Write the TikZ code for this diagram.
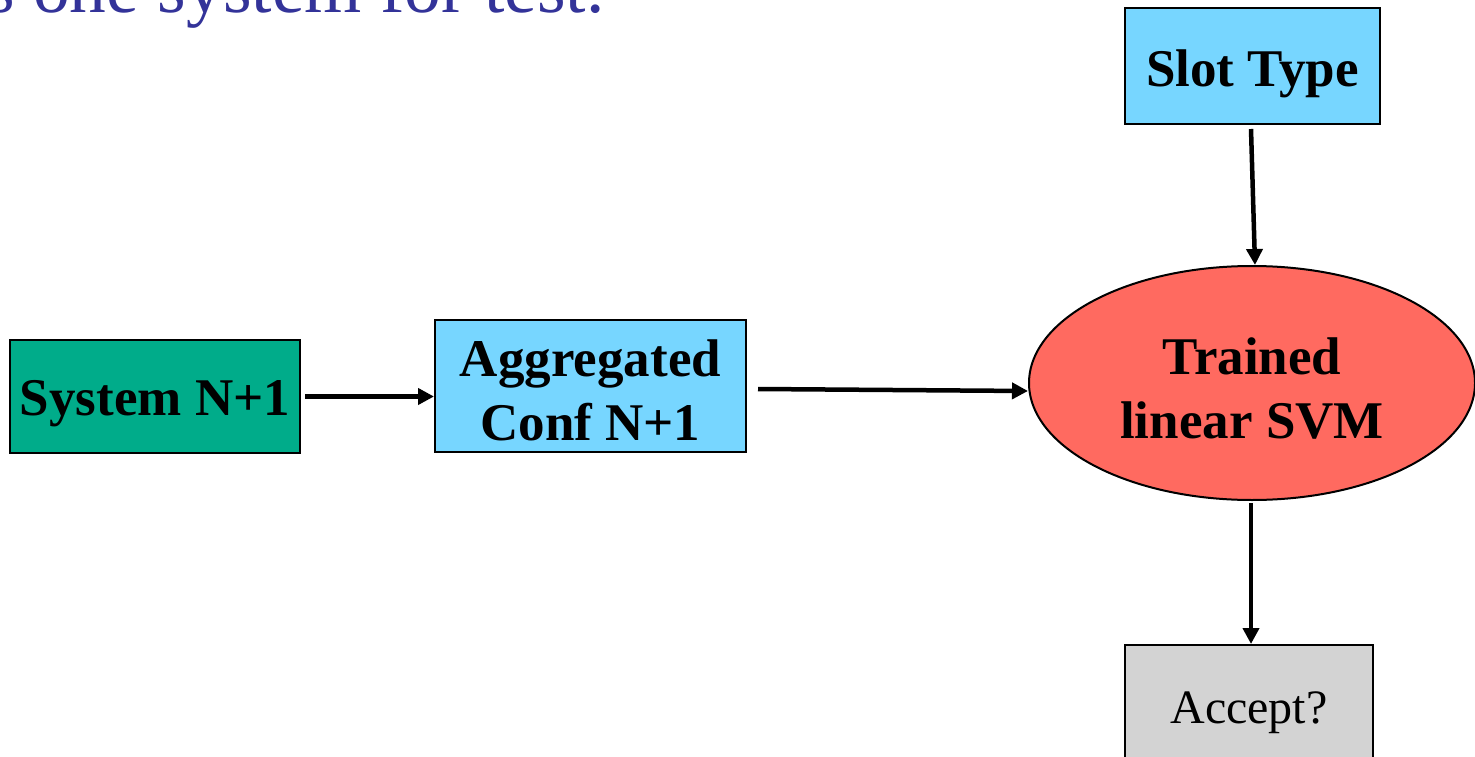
\documentclass[tikz,border=0pt]{standalone}
\usepackage{fontspec}
\setmainfont{Liberation Serif}
\usetikzlibrary{arrows.meta,shapes.geometric}
\definecolor{teal}{RGB}{0,172,138}
\definecolor{skyblue}{RGB}{119,214,255}
\definecolor{salmon}{RGB}{255,106,96}
\definecolor{lightgray}{RGB}{211,211,211}
\definecolor{titleblue}{RGB}{51,51,153}
\tikzset{
  box/.style={draw=black, line width=2pt, rectangle, inner sep=0pt},
  caption/.style={inner sep=0pt, align=center,
    font=\fontsize{53}{64}\selectfont\bfseries},
  flow/.style={line width=4.5pt, -{Triangle[length=16pt,width=16pt]}},
}
\begin{document}
\begin{tikzpicture}[x=1pt,y=-1pt]
\useasboundingbox (0,0) rectangle (1475,757);
\clip (0,0) rectangle (1475,757);
\fill[white] (0,0) rectangle (1475,757);

% heading line, cut off at the top edge
\node[anchor=base west, inner sep=0pt, text=titleblue,
      font=\fontsize{73.5}{80}\selectfont] (title) at (-14,13) {s one system for test.};

% shapes
\node[box, fill=teal, minimum width=290pt, minimum height=113pt] (sys) at (155,396.5) {};
\node[box, fill=skyblue, minimum width=311pt, minimum height=132pt] (agg) at (590.5,386) {};
\node[box, fill=skyblue, minimum width=255pt, minimum height=116pt] (slot) at (1252.5,66) {};
\node[box, ellipse, fill=salmon, minimum width=446pt, minimum height=234pt] (svm) at (1252,383) {};
\node[box, fill=lightgray, minimum width=248pt, minimum height=126pt] (acc) at (1249,708) {};

% texts inside the shapes
\node[caption] (sys-t)  at ([yshift=-7pt]sys.center)  {System N+1};
\node[caption] (agg-t)  at ([yshift=-4pt]agg.center)  {Aggregated\\Conf N+1};
\node[caption] (slot-t) at ([yshift=-8pt]slot.center) {Slot Type};
\node[caption] (svm-t)  at ([yshift=-6pt]svm.center)  {Trained\\linear SVM};
\node[caption, font=\fontsize{48}{56}\selectfont] (acc-t) at ([yshift=-5pt]acc.center) {Accept?};

% connectors
\draw[flow] ([xshift=4pt]sys.east) -- (agg.west |- sys.east);
\draw[flow] ([xshift=11pt,yshift=-3pt]agg.east) -- ([yshift=-8pt]svm.west);
\draw[flow] ([xshift=-1.5pt,yshift=-4pt]slot.south) -- ([xshift=3pt]svm.north);
\draw[flow] ([xshift=-1pt,yshift=-2pt]svm.south) -- ([xshift=2pt]acc.north);
\end{tikzpicture}
\end{document}
